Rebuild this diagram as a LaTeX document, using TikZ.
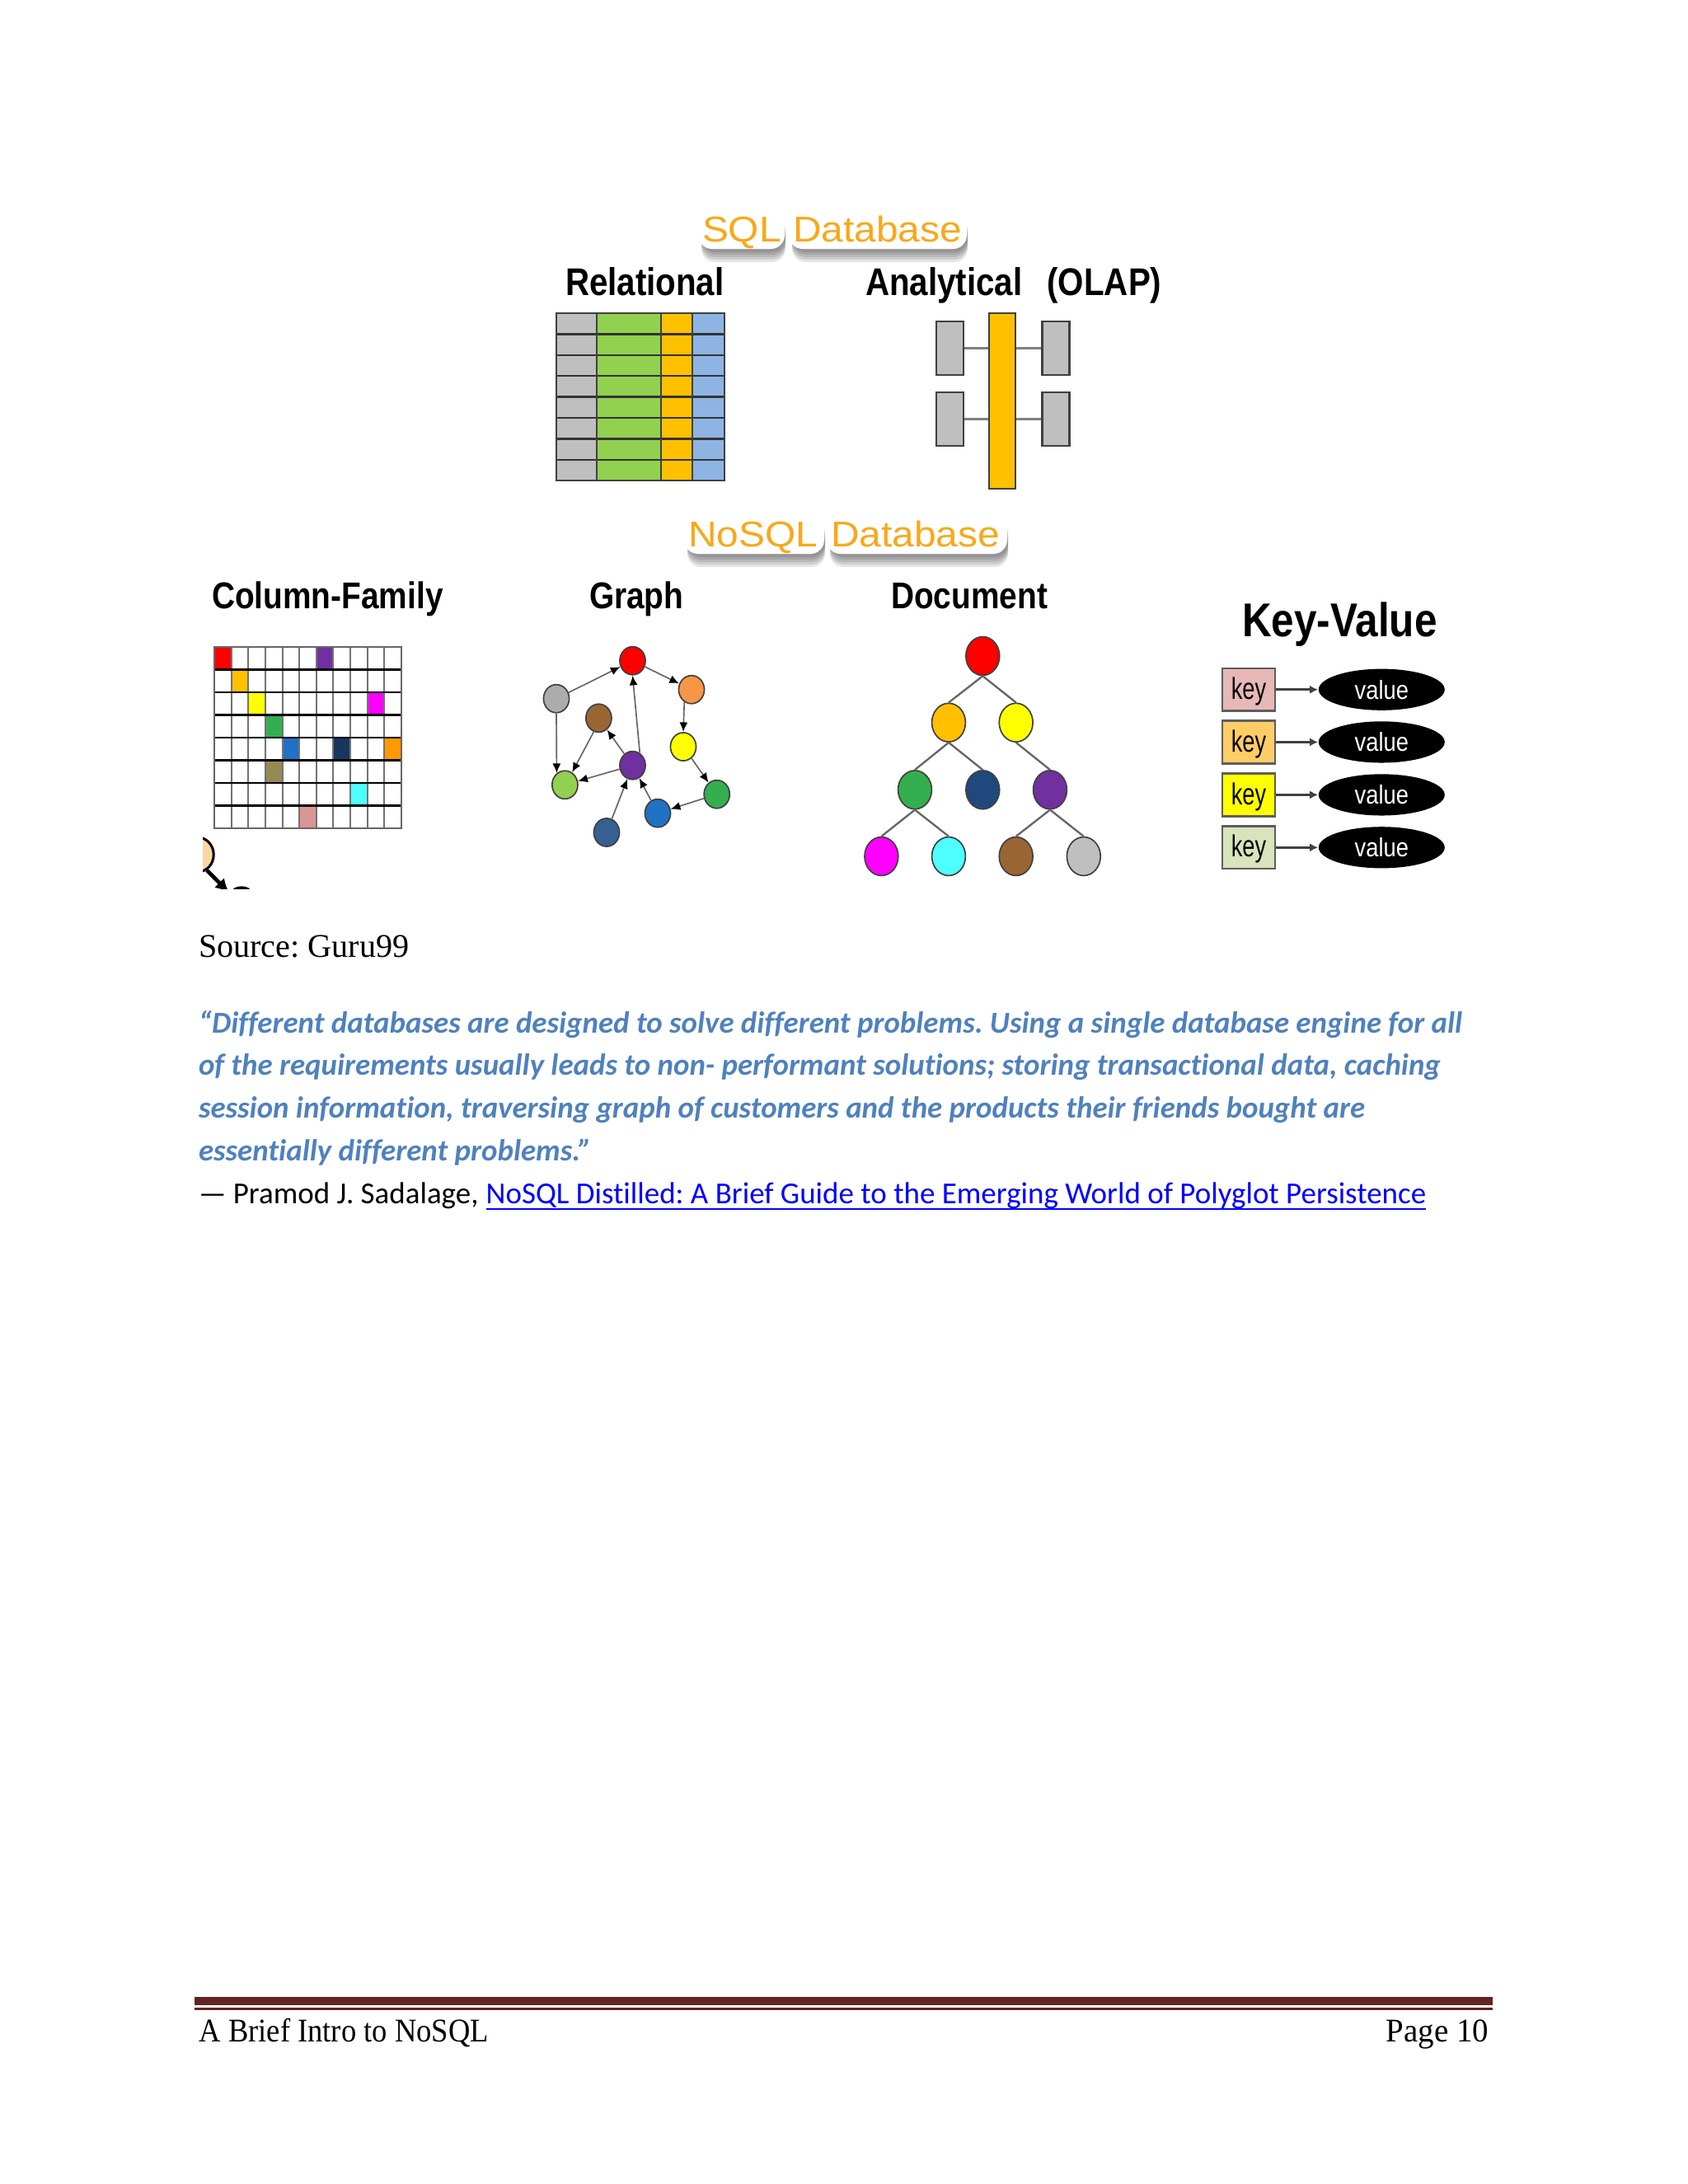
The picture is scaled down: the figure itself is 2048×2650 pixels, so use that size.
\documentclass[tikz,border=0pt]{standalone}
\usepackage{fontspec}
\usepackage{xcolor}
\usetikzlibrary{arrows.meta,positioning,shapes.geometric}
\setmainfont{Liberation Serif}
\newfontfamily\bodyfont[Ligatures=NoCommon]{Carlito}
\newfontfamily\headfont[FakeStretch=0.86]{Liberation Sans}
\newfontfamily\bannerfont[FakeStretch=1.1]{Liberation Sans}
\newfontfamily\keyfont[FakeStretch=0.74]{Liberation Sans}
\newfontfamily\footfont[FakeStretch=0.91]{Liberation Serif}
\newfontfamily\pagefont[FakeStretch=0.97]{Liberation Serif}
\definecolor{BannerAmber}{HTML}{F9A81A}
\definecolor{QuoteBlue}{HTML}{4F81BD}
\definecolor{LinkBlue}{HTML}{0000FF}
\definecolor{FootRed}{HTML}{622423}
\definecolor{ShapeEdge}{HTML}{404040}
\definecolor{CellGray}{HTML}{BFBFBF}
\definecolor{CellGreen}{HTML}{92D050}
\definecolor{CellAmber}{HTML}{FFC000}
\definecolor{CellBlue}{HTML}{8EB4E3}
\definecolor{NodeRed}{HTML}{FF0000}
\definecolor{NodeYellow}{HTML}{FFFF00}
\definecolor{NodeMagenta}{HTML}{FF00FF}
\definecolor{NodeCyan}{HTML}{4DFFFF}
\definecolor{NodeOrange}{HTML}{F79646}
\definecolor{NodeTangerine}{HTML}{FF9900}
\definecolor{NodeBrown}{HTML}{996633}
\definecolor{NodePurple}{HTML}{7030A0}
\definecolor{NodeGreen}{HTML}{33AF4F}
\definecolor{NodeBlue}{HTML}{1F72C4}
\definecolor{NodeSteel}{HTML}{366092}
\definecolor{NodeNavy}{HTML}{1F497D}
\definecolor{NodeOlive}{HTML}{948A54}
\definecolor{NodePink}{HTML}{D99694}
\definecolor{NodeDeep}{HTML}{17375E}
\definecolor{KeyPink}{HTML}{E6B8B7}
\definecolor{KeyAmber}{HTML}{FFCC66}
\definecolor{KeySage}{HTML}{D8E4BC}
\definecolor{SkinPeach}{HTML}{FAD7A0}
\tikzset{
  placed/.style={anchor=base west, inner sep=0pt, outer sep=0pt},
  banner/.style={placed, font=\bannerfont\fontsize{13}{13}\selectfont, text=BannerAmber},
  bannerback/.style={fill=white, rounded corners=5pt},
  title/.style={placed, font=\headfont\bfseries\fontsize{14}{14}\selectfont},
  lowtitle/.style={placed, font=\headfont\bfseries\fontsize{13.5}{13.5}\selectfont},
  quoteline/.style={placed, font=\bodyfont\bfseries\itshape\fontsize{11.02}{11.02}\selectfont, text=QuoteBlue},
  plainline/.style={placed, font=\bodyfont\fontsize{11.05}{11.05}\selectfont},
  footline/.style={inner sep=0pt, font=\fontsize{12}{12}\selectfont},
  block/.style={draw=ShapeEdge, fill=CellGray, line width=0.7pt},
  link/.style={draw=gray, line width=0.8pt},
  bubble/.style={ellipse, draw=ShapeEdge, line width=0.5pt, inner sep=0pt, minimum width=9.3pt, minimum height=10.2pt},
  docbubble/.style={ellipse, draw=ShapeEdge, line width=0.5pt, inner sep=0pt, minimum width=12.2pt, minimum height=14pt},
  graphedge/.style={-{Latex[length=3.5pt,width=3pt,black]}, draw=gray!80!black, line width=0.5pt},
  treeedge/.style={draw=ShapeEdge!80, line width=0.7pt},
  keybox/.style={draw=ShapeEdge!85, line width=0.7pt, minimum width=19.2pt, minimum height=15.5pt, inner sep=0pt, text depth=1pt, font=\keyfont\fontsize{11}{11}\selectfont},
  valuebox/.style={ellipse, fill=black, text=white, minimum width=45.7pt, minimum height=15pt, inner sep=0pt, font=\headfont\fontsize{9.5}{9.5}\selectfont},
  kvflow/.style={-{Latex[length=3pt,width=3pt]}, draw=ShapeEdge, line width=0.8pt}
}

\begin{document}
\frenchspacing
\begin{tikzpicture}[x=0.2988pt, y=-0.2988pt]
  \useasboundingbox (0,0) rectangle (2048,2650);

  % banners
  \foreach \xa/\xb/\ya/\yb in {847/952/258/302, 957/1173/258/302, 830/1000/625/672, 1003/1222/625/672} {
    \foreach \d in {16,13,10,7,4} {
      \fill[black, opacity=0.1, rounded corners=5pt] (\xa+4,\ya+\d) rectangle (\xb+1,\yb+\d);
    }
    \fill[bannerback] (\xa,\ya) rectangle (\xb,\yb);
  }
  \node[banner] (sqlword) at (852,293) {SQL};
  \node[banner] (sqldb) at (962,293) {Database};
  \node[banner] (nosqlword) at (835,663) {NoSQL};
  \node[banner] (nosqldb) at (1008,663) {Database};

  % headings
  \node[title] (relational) at (686,358) {Relational};
  \node[title] (olap) at (1050,358) {Analytical\ \ \,(OLAP)};
  \node[lowtitle] (column) at (257,738) {Column-Family};
  \node[lowtitle] (graph) at (715,738) {Graph};
  \node[lowtitle] (document) at (1081,738) {Document};
  \node[title, font=\headfont\bfseries\fontsize{17.2}{17.2}\selectfont] (keyvalue) at (1507,772) {Key-Value};

  % relational table
  \fill[CellGray] (675,380) rectangle (724,583);
  \fill[CellGreen] (724,380) rectangle (802,583);
  \fill[CellAmber] (802,380) rectangle (840,583);
  \fill[CellBlue] (840,380) rectangle (879,583);
  \foreach \r in {1,...,7} {
    \draw[black!80, line width=0.7pt] (675,380+25.4*\r) -- (879,380+25.4*\r);
  }
  \foreach \c in {724,802,840} {
    \draw[ShapeEdge, line width=0.6pt] (\c,380) -- (\c,583);
  }
  \draw[ShapeEdge, line width=0.7pt] (675,380) rectangle (879,583);

  % analytical
  \node[block, fill=CellAmber, minimum width=9.5pt, minimum height=63.6pt, inner sep=0pt] (spine) at (1216,486.5) {};
  \node[block, minimum width=9.9pt, minimum height=19.6pt, inner sep=0pt] (olapa) at (1152.5,422.5) {};
  \node[block, minimum width=9.9pt, minimum height=19.6pt, inner sep=0pt] (olapb) at (1152.5,508.5) {};
  \node[block, minimum width=9.9pt, minimum height=19.6pt, inner sep=0pt] (olapc) at (1281,422.5) {};
  \node[block, minimum width=9.9pt, minimum height=19.6pt, inner sep=0pt] (olapd) at (1281,508.5) {};
  \draw[link] (olapa.east) -- (olapa.east -| spine.west);
  \draw[link] (olapb.east) -- (olapb.east -| spine.west);
  \draw[link] (olapc.west) -- (olapc.west -| spine.east);
  \draw[link] (olapd.west) -- (olapd.west -| spine.east);

  % column family
  \foreach \c/\r/\shade in {0/0/NodeRed, 6/0/NodePurple, 1/1/CellAmber, 2/2/NodeYellow, 9/2/NodeMagenta, 3/3/NodeGreen,
      4/4/NodeBlue, 7/4/NodeDeep, 10/4/NodeTangerine, 3/5/NodeOlive, 8/6/NodeCyan, 5/7/NodePink} {
    \fill[\shade] (260+20.64*\c,785+27.5*\r) rectangle (260+20.64*\c+20.64,785+27.5*\r+27.5);
  }
  \foreach \c in {1,...,10} {
    \draw[gray!90!black, line width=0.6pt] (260+20.64*\c,785) -- (260+20.64*\c,1005);
  }
  \foreach \r in {1,...,7} {
    \draw[black, line width=0.7pt] (260,785+27.5*\r) -- (487,785+27.5*\r);
  }
  \draw[gray!80!black, line width=0.7pt] (260,785) rectangle (487,1005);

  % clipped figure under the grid
  \begin{scope}
    \clip (246,1010) rectangle (320,1078);
    \node[ellipse, draw=black, fill=SkinPeach, line width=0.9pt, minimum width=11.5pt, minimum height=12.5pt, inner sep=0pt] (clipped) at (240,1037) {};
    \node[ellipse, fill=black, minimum width=7pt, minimum height=4pt, inner sep=0pt] (clippedb) at (293,1082) {};
    \coordinate (clippedend) at (278,1083);
    \draw[-{Latex[length=5pt,width=5pt]}, line width=1.4pt] (clipped.-60) -- (clippedend);
  \end{scope}

  % graph
  \node[bubble, fill=NodeRed] (gred) at (767.5,801.7) {};
  \node[bubble, fill=NodeOrange] (gorange) at (839,836.7) {};
  \node[bubble, fill=CellGray!90!black] (ggray) at (675,847.7) {};
  \node[bubble, fill=NodeBrown] (gbrown) at (726.4,871.3) {};
  \node[bubble, fill=NodeYellow] (gyellow) at (829,906) {};
  \node[bubble, fill=NodePurple] (gpurple) at (767.5,928.7) {};
  \node[bubble, fill=CellGreen] (glime) at (685.4,952.3) {};
  \node[bubble, fill=NodeGreen] (ggreen) at (869.7,963.7) {};
  \node[bubble, fill=NodeBlue] (gblue) at (798,986.7) {};
  \node[bubble, fill=NodeSteel] (gsteel) at (736,1010) {};
  \foreach \a/\b in {ggray/gred, gred/gorange, gyellow/ggreen, ggreen/gblue, gblue/gpurple,
      gsteel/gpurple, gpurple/gbrown, gpurple/glime} {
    \draw[graphedge] (\a) -- (\b);
  }
  \draw[graphedge] (gorange.240) -- (gyellow.north);
  \draw[graphedge] (gpurple.60) -- (gred.south);
  \draw[graphedge] (gbrown.250) -- (glime.60);
  \draw[graphedge] (ggray.south) -- (glime.125);

  % document tree
  \node[docbubble, fill=NodeRed] (dred) at (1192.3,796) {};
  \node[docbubble, fill=CellAmber] (damber) at (1151,876.7) {};
  \node[docbubble, fill=NodeYellow] (dyellow) at (1232.7,876.7) {};
  \node[docbubble, fill=NodeGreen] (dgreen) at (1110,958.3) {};
  \node[docbubble, fill=NodeNavy] (dnavy) at (1192.3,958.3) {};
  \node[docbubble, fill=NodePurple] (dpurple) at (1274,958.3) {};
  \node[docbubble, fill=NodeMagenta] (dmagenta) at (1069.4,1039) {};
  \node[docbubble, fill=NodeCyan] (dcyan) at (1151,1039) {};
  \node[docbubble, fill=NodeBrown] (dbrown) at (1232.7,1039) {};
  \node[docbubble, fill=CellGray] (dgray) at (1314.8,1039) {};
  \foreach \a/\b in {dred/damber, dred/dyellow, damber/dgreen, damber/dnavy, dyellow/dpurple,
      dgreen/dmagenta, dgreen/dcyan, dpurple/dbrown, dpurple/dgray} {
    \draw[treeedge] (\a.south) -- (\b.north);
  }

  % key-value
  \node[keybox, fill=KeyPink] (keya) at (1515,836.7) {key};
  \node[keybox, fill=KeyAmber] (keyb) at (1515,900.4) {key};
  \node[keybox, fill=NodeYellow] (keyc) at (1515,964.4) {key};
  \node[keybox, fill=KeySage] (keyd) at (1515,1028.3) {key};
  \foreach \k/\v in {keya/vala, keyb/valb, keyc/valc, keyd/vald} {
    \node[valuebox, right=15.2pt of \k] (\v) {value};
    \draw[kvflow] (\k) -- (\v);
  }

  % body text
  \node[placed, font=\fontsize{12}{12}\selectfont] (source) at (241,1161.5) {Source: Guru99};
  \node[quoteline] (quotea) at (241,1253) {“Different databases are designed to solve different problems. Using a single database engine for all};
  \node[quoteline] (quoteb) at (241,1304.5) {of the requirements usually leads to non- performant solutions; storing transactional data, caching};
  \node[quoteline] (quotec) at (241,1356.5) {session information, traversing graph of customers and the products their friends bought are};
  \node[quoteline] (quoted) at (241,1408.5) {essentially different problems.”};
  \node[plainline] (byline) at (241,1460) {— Pramod J. Sadalage,};
  \node[plainline, text=LinkBlue] (booklink) at (589.7,1460) {NoSQL Distilled: A Brief Guide to the Emerging World of Polyglot Persistence};
  \draw[LinkBlue, line width=0.6pt] ([yshift=-2pt]booklink.base west) -- ([yshift=-2pt]booklink.base east);

  % footer
  \fill[FootRed] (235.5,2423) rectangle (1811,2433);
  \fill[FootRed] (235.5,2436) rectangle (1811,2439);
  \node[footline, anchor=base west] (footleft) at (241,2477.5) {\footfont A Brief Intro to NoSQL};
  \node[footline, anchor=base east] (footright) at (1807,2477.5) {\pagefont Page 10};
\end{tikzpicture}
\end{document}
